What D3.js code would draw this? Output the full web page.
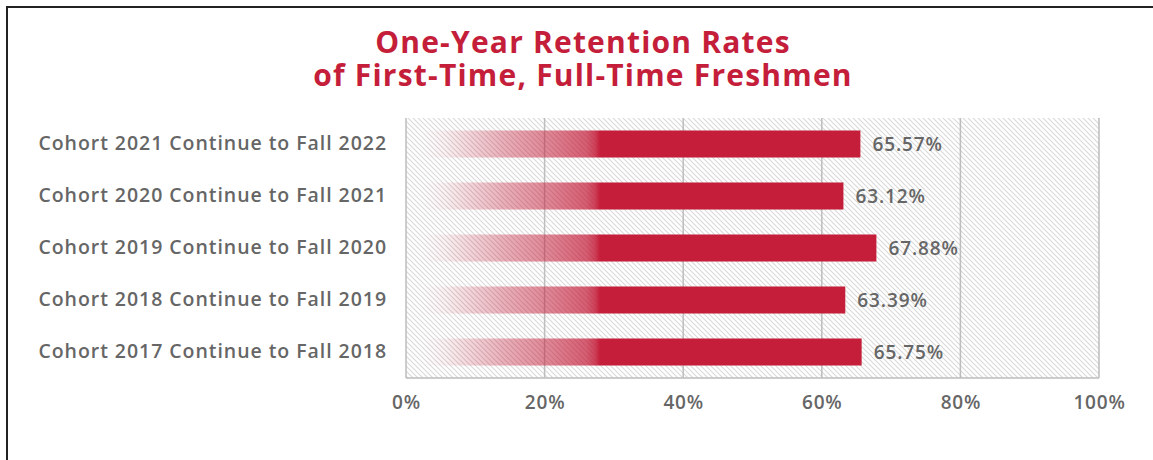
<!DOCTYPE html>
<html>
<head>
<meta charset="utf-8">
<script src="https://cdn.jsdelivr.net/npm/d3@7"></script>
<style>
  body { margin: 0; background: #fff; }
  svg { display: block; }
</style>
</head>
<body>
<div id="chart"></div>
<script>
// data
const cohorts = [
  "Cohort 2021 Continue to Fall 2022",
  "Cohort 2020 Continue to Fall 2021",
  "Cohort 2019 Continue to Fall 2020",
  "Cohort 2018 Continue to Fall 2019",
  "Cohort 2017 Continue to Fall 2018"
];
const rates = [65.57, 63.12, 67.88, 63.39, 65.75];
const ticks = [0, 20, 40, 60, 80, 100];
const titleLines = ["One-Year Retention Rates", "of First-Time, Full-Time Freshmen"];

const width = 1153, height = 460;
const red = "#c41e3a", grey = "#666666";
const font = "'Open Sans', sans-serif";
const margin = { left: 406, right: 54, top: 118, bottom: 82 };

const svg = d3.select("#chart").append("svg")
  .attr("width", width)
  .attr("height", height);

// outer frame, runs off the right and bottom of the image
svg.append("rect")
  .attr("x", 7).attr("y", 7)
  .attr("width", width + 20).attr("height", height + 20)
  .attr("fill", "none")
  .attr("stroke", "#222")
  .attr("stroke-width", 2);

const defs = svg.append("defs");

// hatched plot background
const hatch = defs.append("pattern")
  .attr("id", "hatch")
  .attr("patternUnits", "userSpaceOnUse")
  .attr("width", 5).attr("height", 5);
hatch.append("path")
  .attr("d", "M-1,-1 L6,6 M-1,4 L1,6 M4,-1 L6,1")
  .attr("stroke", "#d9d9d9")
  .attr("stroke-width", 1.1);

const x = d3.scaleLinear()
  .domain([0, 100])
  .range([margin.left, width - margin.right]);

const y = d3.scaleBand()
  .domain(cohorts)
  .range([margin.top, height - margin.bottom])
  .paddingInner(0.48)
  .paddingOuter(0.24);

// fade-in gradient at the start of every bar
const grad = defs.append("linearGradient")
  .attr("id", "fade")
  .attr("gradientUnits", "userSpaceOnUse")
  .attr("x1", x(0)).attr("x2", x(28))
  .attr("y1", 0).attr("y2", 0);
[[0, 0], [0.08, 0], [0.2, 0.06], [0.5, 0.35], [0.75, 0.55], [0.93, 0.72], [0.975, 0.85], [1, 1]]
  .forEach(([o, a]) => grad.append("stop")
    .attr("offset", o)
    .attr("stop-color", red)
    .attr("stop-opacity", a));

svg.append("rect")
  .attr("x", x(0)).attr("y", margin.top)
  .attr("width", x(100) - x(0))
  .attr("height", height - margin.bottom - margin.top)
  .attr("fill", "url(#hatch)");

// vertical grid lines
svg.append("g")
  .selectAll("line")
  .data(ticks)
  .join("line")
  .attr("x1", d => x(d)).attr("x2", d => x(d))
  .attr("y1", margin.top).attr("y2", height - margin.bottom)
  .attr("stroke", "#bdbdbd")
  .attr("stroke-width", 1.5);

svg.append("line")
  .attr("x1", x(0)).attr("x2", x(100))
  .attr("y1", height - margin.bottom).attr("y2", height - margin.bottom)
  .attr("stroke", "#bdbdbd")
  .attr("stroke-width", 1.5);

// bars
svg.append("g")
  .selectAll("rect")
  .data(rates)
  .join("rect")
  .attr("x", x(0))
  .attr("y", (d, i) => y(cohorts[i]))
  .attr("width", d => x(d) - x(0))
  .attr("height", y.bandwidth())
  .attr("fill", "url(#fade)");

// value labels
svg.append("g")
  .selectAll("text")
  .data(rates)
  .join("text")
  .attr("x", d => x(d) + 12)
  .attr("y", (d, i) => y(cohorts[i]) + y.bandwidth() / 2)
  .attr("dy", "0.35em")
  .attr("font-family", font)
  .attr("font-weight", 600)
  .attr("font-size", 19)
  .attr("letter-spacing", 0.9)
  .attr("fill", grey)
  .text(d => d.toFixed(2) + "%");

// category labels
const yAxis = svg.append("g")
  .attr("transform", `translate(${x(0)},0)`)
  .call(d3.axisLeft(y).tickSize(0).tickPadding(19));
yAxis.select(".domain").remove();
yAxis.selectAll("text")
  .attr("font-family", font)
  .attr("font-weight", 600)
  .attr("font-size", 19.5)
  .attr("letter-spacing", 0.95)
  .attr("fill", grey);

// percent axis
const xAxis = svg.append("g")
  .attr("transform", `translate(0,${height - margin.bottom})`)
  .call(d3.axisBottom(x).tickValues(ticks).tickSize(0).tickPadding(18).tickFormat(d => d + "%"));
xAxis.select(".domain").remove();
xAxis.selectAll("text")
  .attr("font-family", font)
  .attr("font-weight", 600)
  .attr("font-size", 19)
  .attr("letter-spacing", 0.8)
  .attr("fill", grey);

// title
svg.append("g")
  .selectAll("text")
  .data(titleLines)
  .join("text")
  .attr("x", 583)
  .attr("y", (d, i) => 53 + i * 33)
  .attr("text-anchor", "middle")
  .attr("font-family", font)
  .attr("font-weight", 700)
  .attr("font-size", 30)
  .attr("letter-spacing", 1.2)
  .attr("fill", red)
  .text(d => d);
</script>
</body>
</html>
